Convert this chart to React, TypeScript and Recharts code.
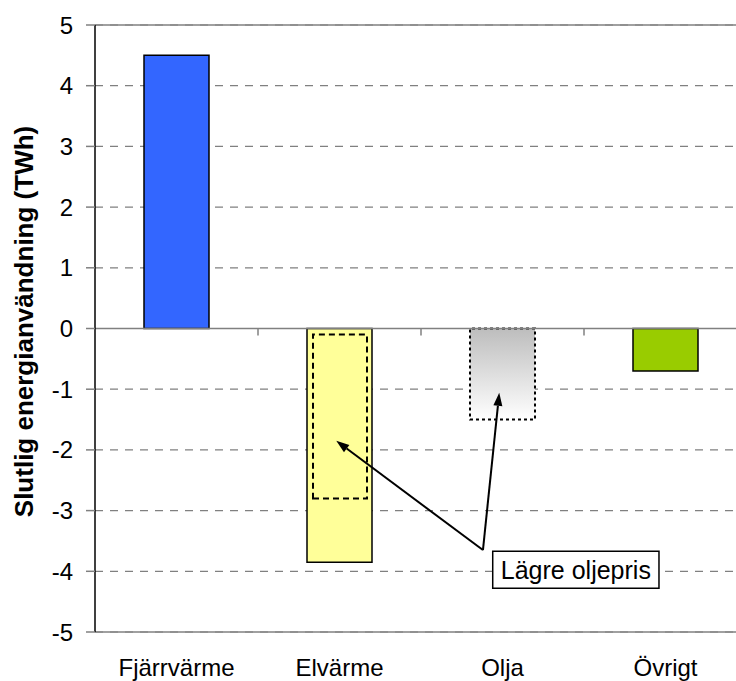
import { BarChart, Bar, XAxis, YAxis, CartesianGrid, ReferenceLine, ReferenceArea, Cell } from "recharts";

const categories = ["Fjärrvärme", "Elvärme", "Olja", "Övrigt"];
const changeTWh = [4.5, -3.85, -1.5, -0.7];
// Elvärme at lower oil price, drawn as a dashed range inside the main bar
const lowOilRange: (number[] | null)[] = [null, [-0.1, -2.8], null, null];
const yTicks = [-5, -4, -3, -2, -1, 0, 1, 2, 3, 4, 5];

const barFills = ["#3366FF", "#FFFF99", "url(#oilFade)", "#99CC00"];
const barDash = [undefined, undefined, "3 3", undefined];

const noteText = "Lägre oljepris";
// annotation box and arrows, in (category slot, TWh); slot 0..4 spans the plot
const noteBox = { x1: 2.44, x2: 3.46, y1: -3.67, y2: -4.28 };
const arrowTail = { x: 2.38, y: -3.65 };
const arrowTips = [
  { x: 1.48, y: -1.85 },
  { x: 2.48, y: -1.06 },
];

const data = categories.map((name, i) => ({
  name,
  slot: i + 0.5,
  value: changeTWh[i],
  lowOil: lowOilRange[i],
}));

const font = "'Liberation Sans', Arial, sans-serif";

const ZeroLine = (props: any) => {
  const { x1, x2, y1 } = props;
  const step = (x2 - x1) / categories.length;
  return (
    <g>
      <line x1={x1} x2={x2} y1={y1} y2={y1} stroke="#808080" strokeWidth={1.5} />
      {[1, 2, 3].map((i) => (
        <line key={i} x1={x1 + i * step} x2={x1 + i * step} y1={y1} y2={y1 + 7} stroke="#808080" strokeWidth={1.5} />
      ))}
    </g>
  );
};

const Arrow = (props: any) => {
  const { x1, y1, x2, y2 } = props;
  const ang = Math.atan2(y2 - y1, x2 - x1);
  const len = 13;
  const half = 4.5;
  const bx = x2 - len * Math.cos(ang);
  const by = y2 - len * Math.sin(ang);
  const px = -Math.sin(ang) * half;
  const py = Math.cos(ang) * half;
  return (
    <g>
      <line x1={x1} y1={y1} x2={bx} y2={by} stroke="#000" strokeWidth={2} />
      <polygon points={`${x2},${y2} ${bx + px},${by + py} ${bx - px},${by - py}`} fill="#000" />
    </g>
  );
};

const YTitle = (props: any) => {
  const { viewBox } = props;
  const cx = viewBox.x + 24;
  const cy = viewBox.y + viewBox.height / 2 - 7;
  return (
    <text
      x={cx}
      y={cy}
      transform={`rotate(-90, ${cx}, ${cy})`}
      textAnchor="middle"
      dominantBaseline="central"
      fontFamily={font}
      fontSize={26}
      fontWeight="bold"
      fill="#000"
    >
      Slutlig energianvändning (TWh)
    </text>
  );
};

export default function App() {
  return (
    <div style={{ position: "absolute", left: 0, top: 0, width: 736, height: 681, overflow: "hidden", background: "#fff" }}>
      <BarChart width={760} height={681} data={data} margin={{ top: 25, right: 13, left: 0, bottom: 0 }}>
        <defs>
          <linearGradient id="oilFade" x1="0" y1="0" x2="0" y2="1">
            <stop offset="0%" stopColor="#BDBDBD" />
            <stop offset="100%" stopColor="#FFFFFF" />
          </linearGradient>
        </defs>
        <CartesianGrid vertical={false} stroke="#808080" strokeDasharray="8 7" strokeWidth={1.2} />
        <XAxis
          dataKey="name"
          height={49}
          axisLine={{ stroke: "#808080", strokeWidth: 1.5 }}
          tickLine={false}
          tickSize={0}
          tickMargin={27}
          tick={{ fill: "#000", fontSize: 24, fontFamily: font }}
          interval={0}
        />
        <XAxis xAxisId="inner" dataKey="name" hide />
        <XAxis xAxisId="num" dataKey="slot" type="number" domain={[0, 4]} hide allowDataOverflow />
        <YAxis
          width={95}
          domain={[-5, 5]}
          ticks={yTicks}
          interval={0}
          axisLine={{ stroke: "#000", strokeWidth: 1.5 }}
          tickLine={{ stroke: "#808080", strokeWidth: 1.5 }}
          tickSize={9}
          tickMargin={13}
          tick={{ fill: "#000", fontSize: 24, fontFamily: font }}
          label={{ content: YTitle }}
        />
        <ReferenceLine y={5} stroke="#808080" strokeWidth={1.5} />
        <Bar dataKey="value" barSize={65} isAnimationActive={false}>
          {data.map((d, i) => (
            <Cell
              key={d.name}
              fill={barFills[i]}
              stroke="#000"
              strokeWidth={barDash[i] ? 2 : 1.5}
              strokeDasharray={barDash[i]}
            />
          ))}
        </Bar>
        <Bar
          dataKey="lowOil"
          xAxisId="inner"
          barSize={54}
          fill="none"
          stroke="#000"
          strokeWidth={2}
          strokeDasharray="6 4"
          isAnimationActive={false}
        />
        <ReferenceLine y={0} shape={ZeroLine} />
        {arrowTips.map((tip, i) => (
          <ReferenceLine key={i} xAxisId="num" segment={[arrowTail, tip]} shape={Arrow} ifOverflow="visible" />
        ))}
        <ReferenceArea
          xAxisId="num"
          x1={noteBox.x1}
          x2={noteBox.x2}
          y1={noteBox.y1}
          y2={noteBox.y2}
          ifOverflow="visible"
          fill="#fff"
          fillOpacity={1}
          stroke="#000"
          strokeWidth={1.5}
          label={{ value: noteText, position: "center", fill: "#000", fontSize: 25, fontFamily: font }}
        />
      </BarChart>
    </div>
  );
}
